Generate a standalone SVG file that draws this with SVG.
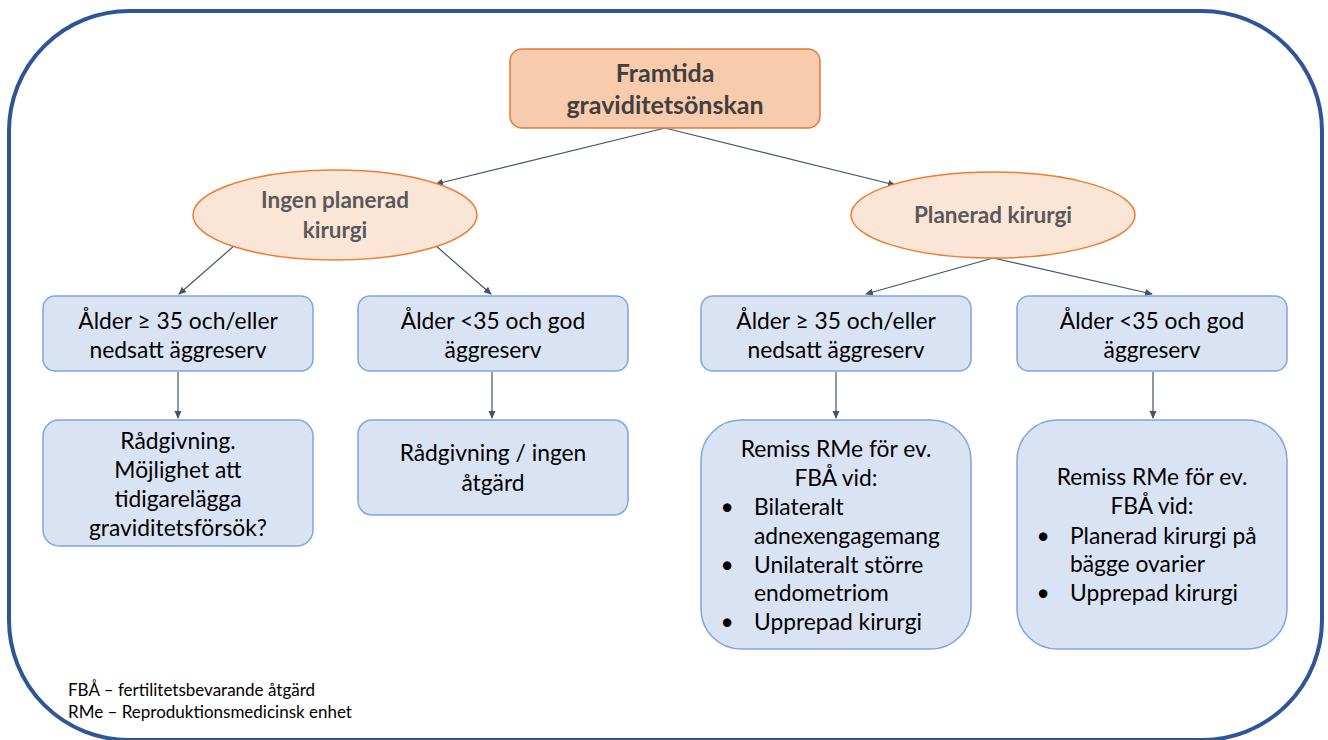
<svg xmlns="http://www.w3.org/2000/svg" width="1328" height="740" viewBox="0 0 1328 740">
<style>
.frame{fill:#fff;stroke:#2F5597;stroke-width:4}
.top{fill:#F8CBAD;stroke:#E07B39;stroke-width:1.5}
.ell{fill:#FBE5D6;stroke:#ED7D31;stroke-width:1.5}
.box{fill:#DAE3F3;stroke:#7FA7D9;stroke-width:1.5}
.t{font-family:Lato,"Liberation Sans",sans-serif;font-size:22.8px;fill:#000;text-anchor:middle}
.l{text-anchor:start}
.hb{font-family:Lato,"Liberation Sans",sans-serif;font-weight:bold;font-size:25px;fill:#404040;text-anchor:middle}
.eb{font-family:Lato,"Liberation Sans",sans-serif;font-weight:bold;font-size:22.5px;fill:#595959;text-anchor:middle}
.fn{font-family:Lato,"Liberation Sans",sans-serif;font-size:17px;fill:#000}
.c line{stroke:#44546A;stroke-width:1.2;marker-end:url(#ah)}
</style>
<defs>
<marker id="ah" markerWidth="8" markerHeight="8" refX="7" refY="4" orient="auto" markerUnits="userSpaceOnUse">
<path d="M0,0.5 L8,4 L0,7.5 Z" fill="#44546A"/>
</marker>
</defs>
<rect class="frame" x="9" y="11" width="1313" height="729" rx="120" ry="120"/>
<g class="c" id="connectors">
<line x1="665" y1="128" x2="436" y2="184"/>
<line x1="665" y1="128" x2="895" y2="185"/>
<line x1="235" y1="245" x2="179" y2="294"/>
<line x1="435" y1="245" x2="491" y2="294"/>
<line x1="993" y1="258" x2="866" y2="294"/>
<line x1="993" y1="258" x2="1152" y2="294"/>
<line x1="178" y1="372" x2="178" y2="418"/>
<line x1="492" y1="372" x2="492" y2="418"/>
<line x1="836" y1="372" x2="836" y2="418"/>
<line x1="1153" y1="372" x2="1153" y2="418"/>
</g>
<g id="n-top">
<rect class="top" x="510" y="49" width="310" height="79" rx="12"/>
<text class="hb" x="665" y="82">Framtida</text>
<text class="hb" x="665" y="114">graviditetsönskan</text>
</g>
<g id="n-ingen">
<ellipse class="ell" cx="335" cy="215" rx="142" ry="45"/>
<text class="eb" x="335" y="208">Ingen planerad</text>
<text class="eb" x="335" y="238">kirurgi</text>
</g>
<g id="n-planerad">
<ellipse class="ell" cx="993" cy="215" rx="142" ry="43"/>
<text class="eb" x="993" y="223">Planerad kirurgi</text>
</g>
<g id="n-a1">
<rect class="box" x="43" y="296" width="270" height="75" rx="12"/>
<text class="t" x="178" y="329">Ålder ≥ 35 och/eller</text>
<text class="t" x="178" y="358">nedsatt äggreserv</text>
</g>
<g id="n-a2">
<rect class="box" x="358" y="296" width="270" height="75" rx="12"/>
<text class="t" x="493" y="329">Ålder &lt;35 och god</text>
<text class="t" x="493" y="358">äggreserv</text>
</g>
<g id="n-a3">
<rect class="box" x="701" y="296" width="270" height="75" rx="12"/>
<text class="t" x="836" y="329">Ålder ≥ 35 och/eller</text>
<text class="t" x="836" y="358">nedsatt äggreserv</text>
</g>
<g id="n-a4">
<rect class="box" x="1017" y="296" width="270" height="75" rx="12"/>
<text class="t" x="1152" y="329">Ålder &lt;35 och god</text>
<text class="t" x="1152" y="358">äggreserv</text>
</g>
<g id="n-b1">
<rect class="box" x="43" y="420" width="270" height="126" rx="16"/>
<text class="t" x="178" y="449">Rådgivning.</text>
<text class="t" x="178" y="478">Möjlighet att</text>
<text class="t" x="178" y="507">tidigarelägga</text>
<text class="t" x="178" y="536">graviditetsförsök?</text>
</g>
<g id="n-b2">
<rect class="box" x="358" y="420" width="270" height="95" rx="14"/>
<text class="t" x="493" y="461">Rådgivning / ingen</text>
<text class="t" x="493" y="491">åtgärd</text>
</g>
<g id="n-b3">
<rect class="box" x="701" y="420" width="270" height="229" rx="40"/>
<text class="t" x="836" y="457">Remiss RMe för ev.</text>
<text class="t" x="836" y="486">FBÅ vid:</text>
<text class="t" x="727" y="515">•</text>
<text class="t l" x="754" y="515">Bilateralt</text>
<text class="t l" x="754" y="544">adnexengagemang</text>
<text class="t" x="727" y="573">•</text>
<text class="t l" x="754" y="573">Unilateralt större</text>
<text class="t l" x="754" y="601">endometriom</text>
<text class="t" x="727" y="630">•</text>
<text class="t l" x="754" y="630">Upprepad kirurgi</text>
</g>
<g id="n-b4">
<rect class="box" x="1017" y="420" width="270" height="229" rx="40"/>
<text class="t" x="1152" y="485">Remiss RMe för ev.</text>
<text class="t" x="1152" y="514">FBÅ vid:</text>
<text class="t" x="1043" y="544">•</text>
<text class="t l" x="1070" y="544">Planerad kirurgi på</text>
<text class="t l" x="1070" y="572">bägge ovarier</text>
<text class="t" x="1043" y="601">•</text>
<text class="t l" x="1070" y="601">Upprepad kirurgi</text>
</g>
<g id="legend">
<text class="fn" x="68" y="696">FBÅ – fertilitetsbevarande åtgärd</text>
<text class="fn" x="68" y="718">RMe – Reproduktionsmedicinsk enhet</text>
</g>
</svg>
